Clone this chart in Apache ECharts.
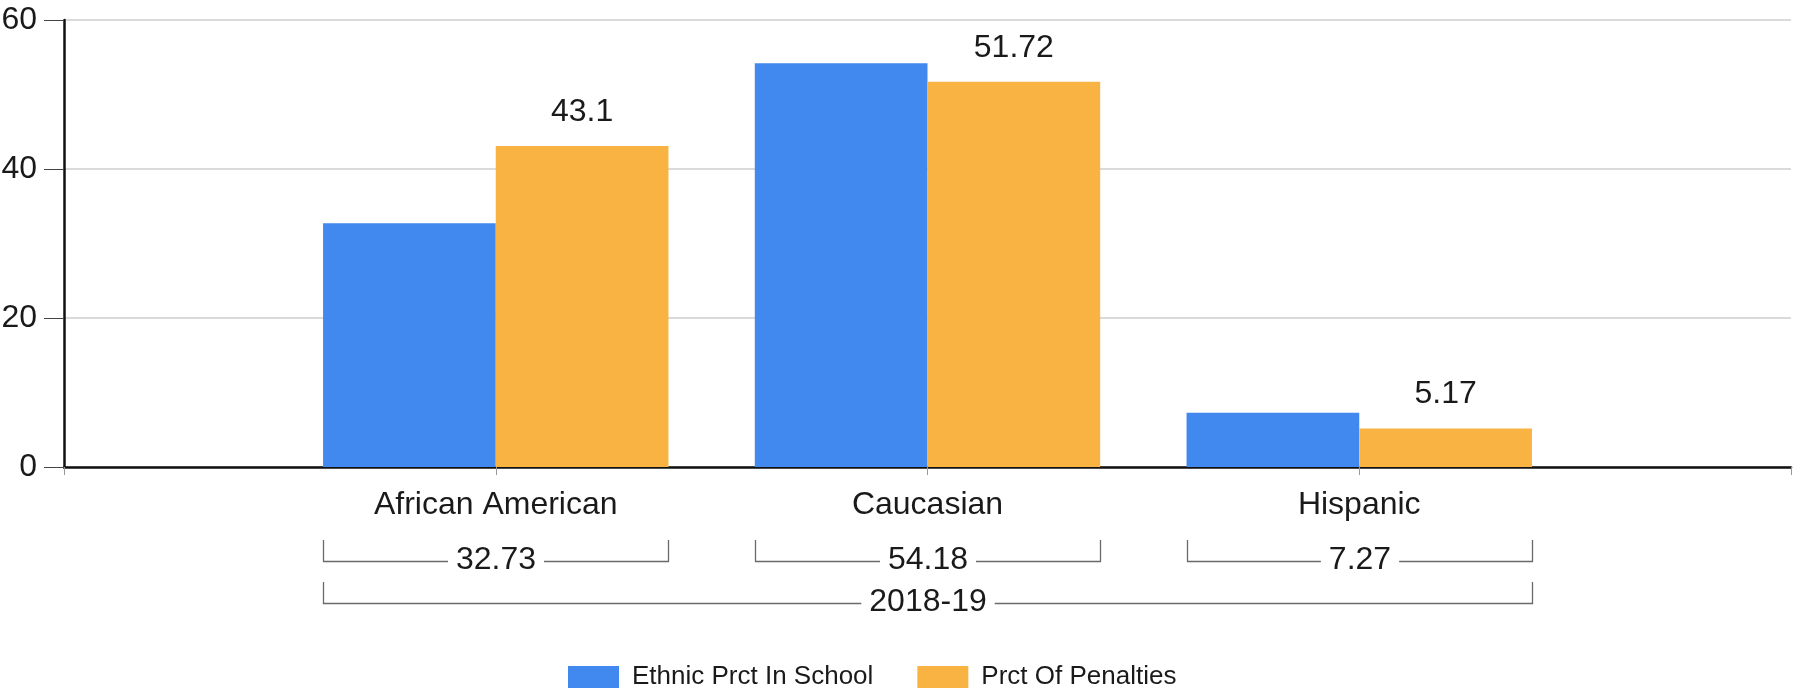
<!DOCTYPE html>
<html>
<head>
<meta charset="utf-8">
<title>Ethnic share vs penalties, 2018-19</title>
<script src="https://cdn.jsdelivr.net/npm/echarts@6/dist/echarts.min.js"></script>
<style>
  html, body { margin: 0; padding: 0; background: #fff; }
  #chart { width: 1794px; height: 692px; }
</style>
</head>
<body>
<div id="chart"></div>
<script>
// Categories and values
const categories = ['African American', 'Caucasian', 'Hispanic'];
const ethnicPctInSchool = [32.73, 54.18, 7.27];
const pctOfPenalties = [43.1, 51.72, 5.17];
const seriesNames = ['Ethnic Prct In School', 'Prct Of Penalties'];
const yearLabel = '2018-19';
const yTicks = { min: 0, max: 60, interval: 20 };

const FONT = '"Liberation Sans", Arial, Helvetica, sans-serif';
const BLUE = '#4189ee';
const ORANGE = '#f9b342';
const TEXT = '#1a1a1a';
const GROUP_RATIO = 0.8; // share of a category band taken by its bars

// Empty slots on both ends so the bars sit on the inner ticks
const axisCategories = [''].concat(categories, ['']);
const pad = arr => ['-'].concat(arr, ['-']);

// Brackets under the axis: one per category, plus one spanning all of them
const catBracketData = categories.map((c, i) => [i + 1, 0]);
const yearBracketData = [[1, 0]];

function bracket(api, i0, i1, yTopOff, yLineOff, label) {
  const p0 = api.coord([i0, 0]);
  const p1 = api.coord([i1, 0]);
  const half = api.size([1, 0])[0] * GROUP_RATIO / 2;
  const left = Math.round(p0[0] - half) + 0.5;
  const right = Math.round(p1[0] + half) + 0.5;
  const yTop = p0[1] + yTopOff;
  const yLine = Math.round(p0[1] + yLineOff) + 0.5;
  return {
    type: 'group',
    children: [
      {
        type: 'polyline',
        shape: { points: [[left, yTop], [left, yLine], [right, yLine], [right, yTop]] },
        style: { stroke: '#6a6a6a', lineWidth: 1.3, fill: null }
      },
      {
        type: 'text',
        style: {
          text: label,
          x: (left + right) / 2,
          y: yLine - 1,
          align: 'center',
          verticalAlign: 'middle',
          fontSize: 32,
          fontFamily: FONT,
          fill: TEXT,
          backgroundColor: '#fff',
          padding: [0, 8]
        }
      }
    ]
  };
}

const chart = echarts.init(document.getElementById('chart'), null, { renderer: 'canvas' });

chart.setOption({
  animation: false,
  backgroundColor: '#fff',
  grid: { left: 64, right: 3, top: 20, bottom: 225, outerBoundsMode: 'none' },
  legend: {
    data: seriesNames,
    left: 568,
    top: 664,
    padding: 0,
    icon: 'rect',
    itemWidth: 51,
    itemHeight: 22,
    itemGap: 44,
    textStyle: { fontSize: 26, fontFamily: FONT, color: TEXT, padding: [0, 0, 0, 8] }
  },
  xAxis: {
    type: 'category',
    data: axisCategories,
    boundaryGap: false,
    axisLine: { lineStyle: { color: '#111', width: 2.5 } },
    axisTick: { show: true, length: 8, lineStyle: { color: '#999', width: 1 } },
    axisLabel: { interval: 0, fontSize: 32, fontFamily: FONT, color: TEXT, margin: 22 },
    splitLine: { show: false }
  },
  yAxis: {
    type: 'value',
    min: yTicks.min,
    max: yTicks.max,
    interval: yTicks.interval,
    axisLine: { show: true, lineStyle: { color: '#111', width: 2.5 } },
    axisTick: { show: true, length: 20, lineStyle: { color: '#444', width: 1 } },
    axisLabel: { fontSize: 32, fontFamily: FONT, color: TEXT, margin: 27 },
    splitLine: { lineStyle: { color: '#dadada', width: 2 } }
  },
  series: [
    {
      name: seriesNames[0],
      type: 'bar',
      data: pad(ethnicPctInSchool),
      itemStyle: { color: BLUE },
      barGap: '0%',
      barCategoryGap: '20%'
    },
    {
      name: seriesNames[1],
      type: 'bar',
      data: pad(pctOfPenalties),
      itemStyle: { color: ORANGE },
      barGap: '0%',
      barCategoryGap: '20%',
      label: {
        show: true,
        position: 'top',
        distance: 18,
        fontSize: 32,
        fontFamily: FONT,
        color: TEXT
      }
    },
    {
      name: 'categoryBrackets',
      type: 'custom',
      silent: true,
      clip: false,
      data: catBracketData,
      renderItem: function (params, api) {
        const i = api.value(0);
        return bracket(api, i, i, 73, 94, String(ethnicPctInSchool[params.dataIndex]));
      }
    },
    {
      name: 'yearBracket',
      type: 'custom',
      silent: true,
      clip: false,
      data: yearBracketData,
      renderItem: function (params, api) {
        return bracket(api, 1, categories.length, 115, 136, yearLabel);
      }
    }
  ]
});
</script>
</body>
</html>
